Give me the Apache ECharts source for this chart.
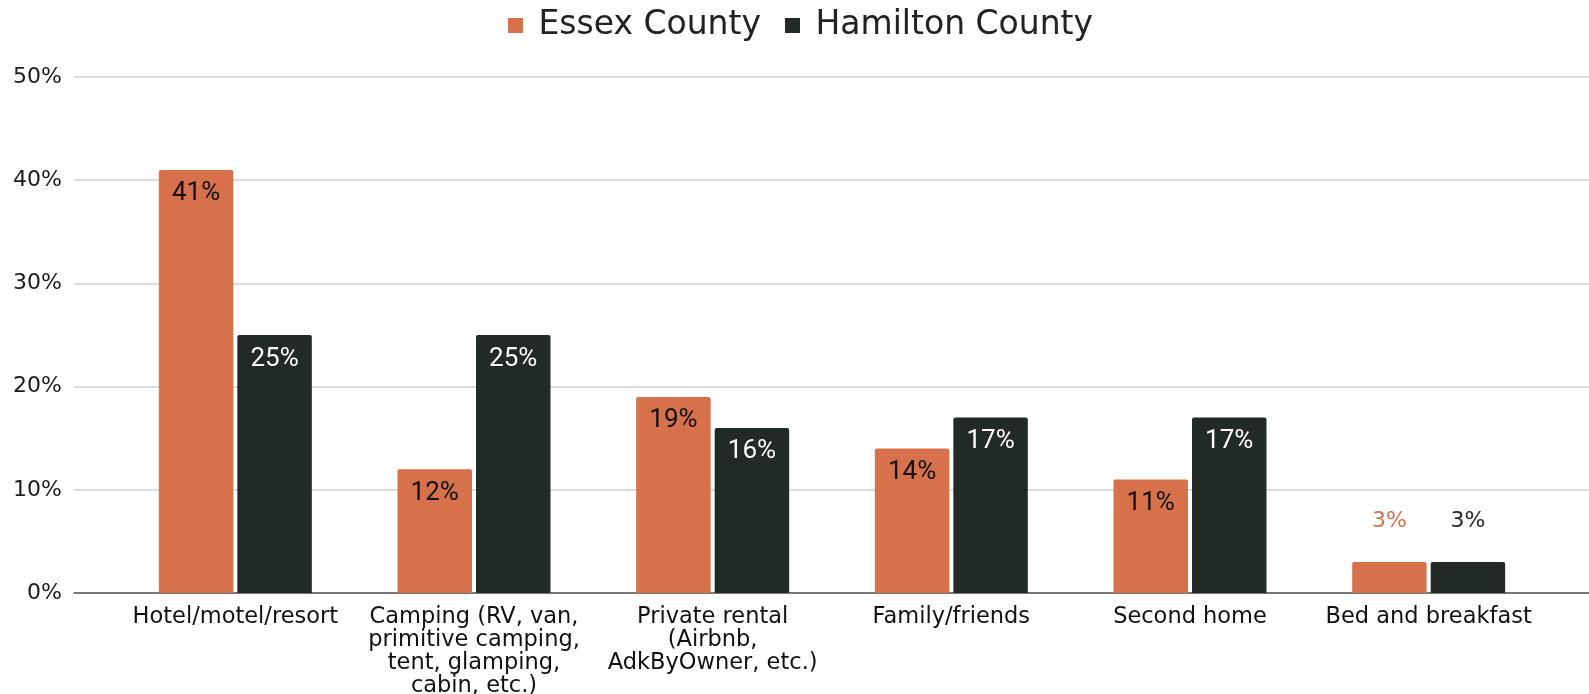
<!DOCTYPE html>
<html>
<head>
<meta charset="utf-8">
<script src="https://cdn.jsdelivr.net/npm/echarts@6/dist/echarts.min.js"></script>
<style>
  html, body { margin: 0; padding: 0; background: #fff; }
  #chart { width: 1589px; height: 694px; }
</style>
</head>
<body>
<div id="chart"></div>
<script>
// Lodging type by county (share of respondents, %)
const categories = [
  'Hotel/motel/resort',
  'Camping (RV, van,\nprimitive camping,\ntent, glamping,\ncabin, etc.)',
  'Private rental\n(Airbnb,\nAdkByOwner, etc.)',
  'Family/friends',
  'Second home',
  'Bed and breakfast'
];
const essex = [41, 12, 19, 14, 11, 3];
const hamilton = [25, 25, 16, 17, 17, 3];
const yTicks = [0, 10, 20, 30, 40, 50];

const ORANGE = '#D6714C';
const DARK = '#222A26';
const FONT = 'DejaVu Sans';
const LABEL_FONT = 'Roboto';

// Small bars get their label above the bar in the series colour
function seriesData(values, color, insideColor) {
  return values.map(v => {
    if (v < 5) {
      return {
        value: v,
        label: {
          position: 'top', distance: 30, color: color,
          fontFamily: FONT, fontSize: 22,
          textBorderColor: '#fff', textBorderWidth: 3
        }
      };
    }
    return { value: v, label: { color: insideColor } };
  });
}

const barLabel = {
  show: true, position: 'insideTop', distance: 11,
  formatter: p => p.value + '%', fontSize: 26, fontFamily: LABEL_FONT
};

const chart = echarts.init(document.getElementById('chart'), null, { renderer: 'canvas' });
chart.setOption({
  animation: false,
  textStyle: { fontFamily: FONT },
  legend: {
    top: 9,
    left: 508,
    padding: 0,
    itemWidth: 15,
    itemHeight: 15,
    itemGap: 24,
    icon: 'rect',
    formatter: ' {name}',
    textStyle: { fontSize: 33, color: '#222', fontFamily: FONT },
    data: ['Essex County', 'Hamilton County']
  },
  grid: [
    // full-width frame: value ticks, gridlines and baseline
    { left: 74, right: 0, top: 77, bottom: 101, outerBoundsMode: 'none', containLabel: false },
    // plotting area for the bars
    { left: 116, right: 41, top: 77, bottom: 101, outerBoundsMode: 'none', containLabel: false }
  ],
  xAxis: [
    {
      type: 'value', gridIndex: 0, min: 0, max: 1,
      axisLine: { show: true, onZero: false, lineStyle: { color: '#555', width: 1.5 } },
      axisTick: { show: false }, axisLabel: { show: false }, splitLine: { show: false }
    },
    {
      type: 'category', gridIndex: 1,
      data: categories,
      axisLine: { show: false },
      axisTick: { show: false },
      axisLabel: {
        interval: 0,
        fontSize: 22.5,
        color: '#111',
        lineHeight: 23,
        margin: 13,
        fontFamily: FONT
      }
    }
  ],
  yAxis: [
    {
      type: 'value', gridIndex: 0,
      min: yTicks[0], max: yTicks[yTicks.length - 1], interval: 10,
      axisLine: { show: false },
      axisTick: { show: false },
      splitLine: { lineStyle: { color: '#d0d0d0', width: 1.5 } },
      axisLabel: {
        formatter: v => v + '%',
        fontSize: 22,
        color: '#1a1a1a',
        margin: 12,
        fontFamily: FONT
      }
    },
    {
      type: 'value', gridIndex: 1,
      min: yTicks[0], max: yTicks[yTicks.length - 1], interval: 10,
      show: false
    }
  ],
  series: [
    {
      name: 'Essex County',
      type: 'bar',
      xAxisIndex: 1, yAxisIndex: 1,
      data: seriesData(essex, ORANGE, '#111'),
      itemStyle: { color: ORANGE, borderRadius: [2, 2, 0, 0] },
      barGap: '5.4%',
      barCategoryGap: '35.9%',
      label: barLabel
    },
    {
      name: 'Hamilton County',
      type: 'bar',
      xAxisIndex: 1, yAxisIndex: 1,
      data: seriesData(hamilton, DARK, '#fff'),
      itemStyle: { color: DARK, borderRadius: [2, 2, 0, 0] },
      barGap: '5.4%',
      barCategoryGap: '35.9%',
      label: barLabel
    }
  ]
});
</script>
</body>
</html>
